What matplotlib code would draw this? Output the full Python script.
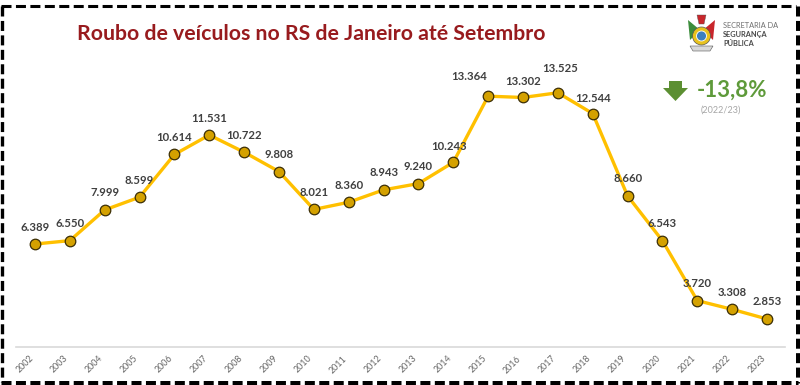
import matplotlib
matplotlib.use("Agg")
import matplotlib.pyplot as plt
from matplotlib.lines import Line2D
from matplotlib.patches import Polygon, Ellipse

plt.rcParams['lines.scale_dashes'] = False

years = list(range(2002, 2024))
year_labels = [str(y) for y in years]
values = [6389, 6550, 7999, 8599, 10614, 11531, 10722, 9808, 8021, 8360,
          8943, 9240, 10243, 13364, 13302, 13525, 12544, 8660, 6543, 3720,
          3308, 2853]
value_labels = ["6.389", "6.550", "7.999", "8.599", "10.614", "11.531", "10.722",
                "9.808", "8.021", "8.360", "8.943", "9.240", "10.243", "13.364",
                "13.302", "13.525", "12.544", "8.660", "6.543", "3.720", "3.308",
                "2.853"]
title = "Roubo de veículos no RS de Janeiro até Setembro"
change_text = "-13,8%"
change_period = "(2022/23)"

W, H = 800, 385
DPI = 100
fig = plt.figure(figsize=(W / DPI, H / DPI), dpi=DPI)
fig.patch.set_facecolor('white')

def fx(px):
    return px / W

def fy(py):
    return 1 - py / H

# axes in pixel layout
left, right, top, bottom = 16, 785, 60, 347
ax = fig.add_axes([fx(left), fy(bottom), (right - left) / W, (bottom - top) / H])
ax.set_xlim(2001.455, 2023.516)
ax.set_ylim(1532, 15070)
for s in ['top', 'right', 'left']:
    ax.spines[s].set_visible(False)
ax.spines['bottom'].set_color('#D9D9D9')
ax.spines['bottom'].set_linewidth(1.2)
ax.set_yticks([])
ax.set_xticks(years)
ax.set_xticklabels(year_labels, rotation=45, ha='right', fontsize=6.4,
                   color='#666666', family='Lato')
ax.tick_params(axis='x', length=0, pad=5)
ax.patch.set_alpha(0)

ax.plot(years, values, color='#FFC000', lw=2.4, zorder=2, solid_capstyle='round')
ax.plot(years, values, 'o', ms=7.6, mfc='#D4A100', mec='#3B2E05', mew=0.9, zorder=3)

# label offsets in pixels (dx, dy)
offsets = {2014: (-4, 16), 2015: (-19, 20), 2016: (0, 16), 2017: (2, 24), 2018: (0, 15)}
for yr, v, lab in zip(years, values, value_labels):
    dx, dy = offsets.get(yr, (0, 17))
    ax.annotate(lab, (yr, v), xytext=(dx * 0.72, dy * 0.72), textcoords='offset points',
                ha='center', va='center', fontsize=8.2, fontweight='bold',
                color='#404040', family='Lato', zorder=4)

# title
fig.text(fx(311), fy(40), title, ha='center', va='baseline', fontsize=15.3,
         fontweight='bold', color='#981B1E', family='Lato')

# change indicator
green = '#5E9A3A'
tf = fig.transFigure
arrow = Polygon([(fx(669), fy(81)), (fx(682), fy(81)), (fx(682), fy(88)),
                 (fx(688), fy(88)), (fx(675.5), fy(101)), (fx(663), fy(88)),
                 (fx(669), fy(88))], closed=True, transform=tf,
                facecolor='#5C8F32', edgecolor='none')
fig.add_artist(arrow)
fig.text(fx(697), fy(97), change_text, ha='left', va='baseline', fontsize=16,
         fontweight='bold', color=green, family='Lato')
fig.text(fx(721), fy(110), change_period, ha='center', va='center', fontsize=6.5,
         color='#A6A6A6', family='Lato')

# logo (simplified coat of arms)
fig.add_artist(Polygon([(fx(688), fy(20)), (fx(700), fy(30)), (fx(690), fy(40))],
                       closed=True, transform=tf, facecolor='#3C8D3C', edgecolor='none'))
fig.add_artist(Polygon([(fx(715), fy(20)), (fx(703), fy(30)), (fx(713), fy(40))],
                       closed=True, transform=tf, facecolor='#C8262B', edgecolor='none'))
fig.add_artist(Ellipse((fx(701.5), fy(36)), 18 / W, 18 / H, transform=tf,
                       facecolor='#E8C21D', edgecolor='#555555', lw=0.5))
fig.add_artist(Ellipse((fx(701.5), fy(36)), 10 / W, 10 / H, transform=tf,
                       facecolor='#3A7FC1', edgecolor='white', lw=0.6))
fig.add_artist(Polygon([(fx(690), fy(46)), (fx(713), fy(46)), (fx(710), fy(51)),
                        (fx(693), fy(51))], closed=True, transform=tf,
                       facecolor='#D9D9D9', edgecolor='#555555', lw=0.4))
fig.add_artist(Polygon([(fx(697), fy(15)), (fx(706), fy(15)), (fx(704), fy(24)),
                        (fx(699), fy(24))], closed=True, transform=tf,
                       facecolor='#C8262B', edgecolor='#555555', lw=0.3))
fig.text(fx(723), fy(26), "SECRETARIA DA", ha='left', va='center', fontsize=5.3,
         color='#6E6E6E', family='Lato')
fig.text(fx(723), fy(34.5), "SEGURANÇA", ha='left', va='center', fontsize=5.3,
         fontweight='bold', color='#4A4A4A', family='Lato')
fig.text(fx(723), fy(43), "PÚBLICA", ha='left', va='center', fontsize=5.3,
         fontweight='bold', color='#4A4A4A', family='Lato')

# dashed frame
dash = (0, (7.2, 3.2))
def frame_line(xs, ys, lw):
    fig.add_artist(Line2D([fx(x) for x in xs], [fy(y) for y in ys], transform=tf,
                          color='black', lw=lw, linestyle=dash,
                          dash_capstyle='butt'))

frame_line([1, 796], [6, 6], 2.2)
frame_line([1.5, 1.5], [6, 382], 2.4)
frame_line([797.5, 797.5], [6, 383], 3.6)
frame_line([1, 798], [382.5, 382.5], 3.6)

fig.savefig('out.png', dpi=DPI, facecolor='white')
